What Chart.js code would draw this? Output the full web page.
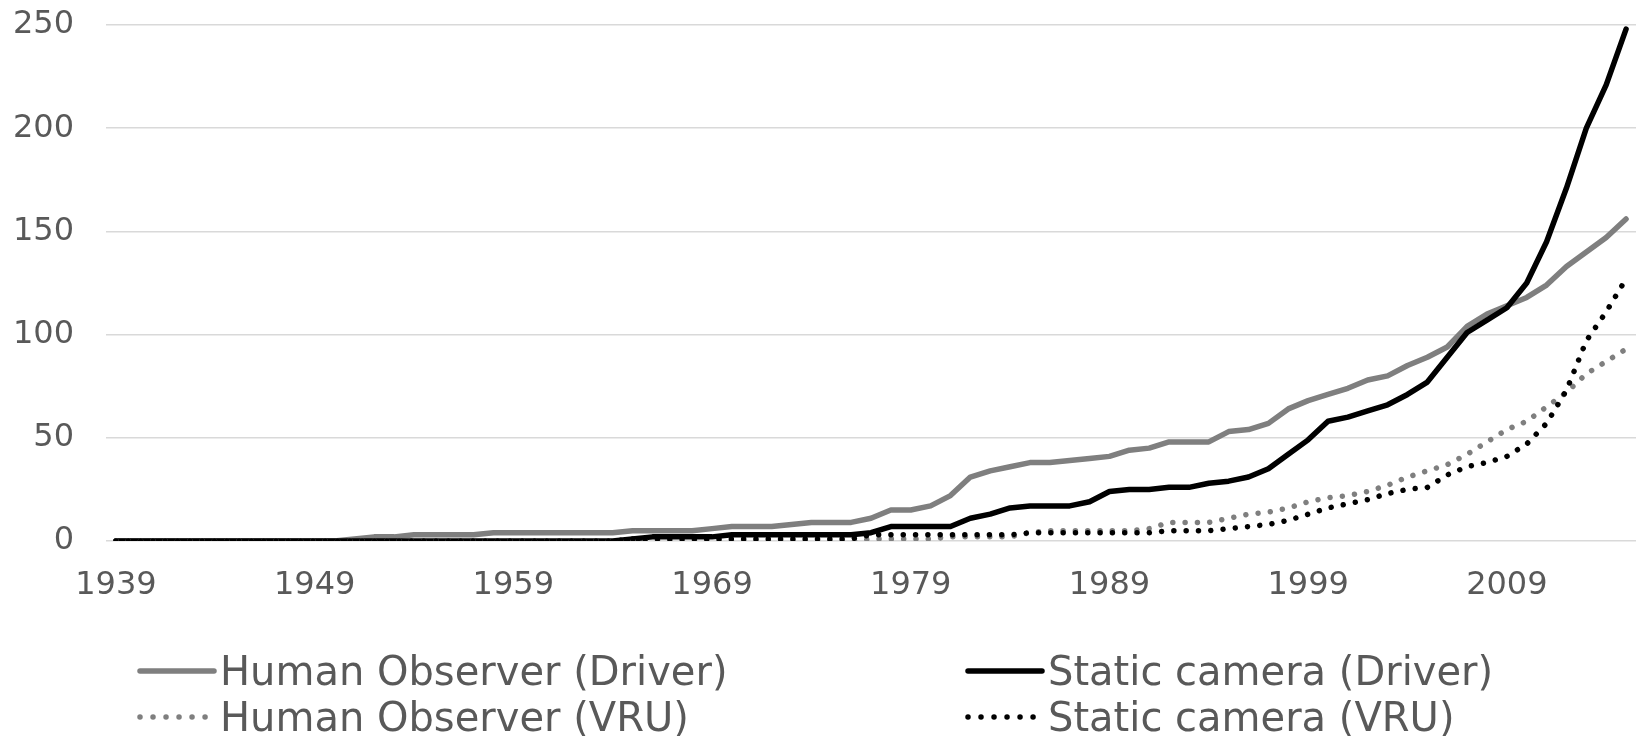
<!DOCTYPE html>
<html>
<head>
<meta charset="utf-8">
<script src="https://cdn.jsdelivr.net/npm/chart.js@4"></script>
<style>
  html, body { margin: 0; padding: 0; background: #ffffff; }
  body { width: 1637px; height: 736px; position: relative; overflow: hidden; font-family: "DejaVu Sans", Verdana, sans-serif; }
  #wrap { position: absolute; left: 0; top: 0; width: 1637px; height: 610px; }
  #legend { position: absolute; left: 0; top: 0; width: 1637px; height: 736px; pointer-events: none; }
  .item { position: absolute; height: 40px; display: flex; align-items: center; white-space: nowrap; }
  .item span { font-size: 40px; line-height: 40px; color: #595959; margin-left: 3px; }
</style>
</head>
<body>
<div id="wrap"><canvas id="c" width="1637" height="610"></canvas></div>
<div id="legend"></div>
<script>
const years = ['1939','1940','1941','1942','1943','1944','1945','1946','1947','1948',
  '1949','1950','1951','1952','1953','1954','1955','1956','1957','1958',
  '1959','1960','1961','1962','1963','1964','1965','1966','1967','1968',
  '1969','1970','1971','1972','1973','1974','1975','1976','1977','1978',
  '1979','1980','1981','1982','1983','1984','1985','1986','1987','1988',
  '1989','1990','1991','1992','1993','1994','1995','1996','1997','1998',
  '1999','2000','2001','2002','2003','2004','2005','2006','2007','2008',
  '2009','2010','2011','2012','2013','2014','2015'];

const xTickLabels = ['1939','1949','1959','1969','1979','1989','1999','2009'];
const yTickValues = [0, 50, 100, 150, 200, 250];

const seriesNames = ['Human Observer (Driver)', 'Static camera (Driver)', 'Human Observer (VRU)', 'Static camera (VRU)'];

// Human Observer (Driver)
const humanDriver = [0,0,0,0,0,0,0,0,0,0,
  0,0,1,2,2,3,3,3,3,4,
  4,4,4,4,4,4,5,5,5,5,
  6,7,7,7,8,9,9,9,11,15,
  15,17,22,31,34,36,38,38,39,40,
  41,44,45,48,48,48,53,54,57,64,
  68,71,74,78,80,85,89,94,104,110,
  114,118,124,133,140,147,156];

// Static camera (Driver)
const cameraDriver = [0,0,0,0,0,0,0,0,0,0,
  0,0,0,0,0,0,0,0,0,0,
  0,0,0,0,0,0,1,2,2,2,
  2,3,3,3,3,3,3,3,4,7,
  7,7,7,11,13,16,17,17,17,19,
  24,25,25,26,26,28,29,31,35,42,
  49,58,60,63,66,71,77,89,101,107,
  113,125,145,171,200,221,248];

// Human Observer (VRU)
const humanVRU = [0,0,0,0,0,0,0,0,0,0,
  0,0,0,0,0,0,0,0,0,0,
  0,0,0,0,0,0,0,0,0,0,
  0,0,0,0,0,0,0,0,1,1,
  1,1,2,2,2,2,4,5,5,5,
  5,5,6,9,9,9,11,13,14,16,
  19,21,22,24,27,31,34,37,42,48,
  54,58,65,72,81,87,93];

// Static camera (VRU)
const cameraVRU = [0,0,0,0,0,0,0,0,0,0,
  0,0,0,0,0,0,0,0,0,0,
  0,0,0,0,0,0,1,1,1,1,
  1,1,1,1,1,1,1,1,3,3,
  3,3,3,3,3,3,4,4,4,4,
  4,4,4,5,5,5,6,7,8,10,
  13,16,18,20,23,25,26,32,36,38,
  41,47,57,73,97,111,127];

const GRAY = '#7f7f7f';
const BLACK = '#000000';
const TEXT = '#595959';
const FONT = '"DejaVu Sans", Verdana, sans-serif';

const styles = [
  { color: GRAY, dash: [] },
  { color: BLACK, dash: [] },
  { color: GRAY, dash: [0.01, 12.3] },
  { color: BLACK, dash: [0.01, 12.3] }
];
const values = [humanDriver, cameraDriver, humanVRU, cameraVRU];

const datasets = seriesNames.map((name, i) => ({
  label: name,
  data: values[i],
  borderColor: styles[i].color,
  backgroundColor: styles[i].color,
  borderWidth: 5.5,
  borderDash: styles[i].dash,
  borderCapStyle: 'round',
  borderJoinStyle: 'round',
  pointRadius: 0,
  pointHoverRadius: 0,
  tension: 0,
  fill: false,
  order: 4 - i
}));

new Chart(document.getElementById('c'), {
  type: 'line',
  data: { labels: years, datasets: datasets },
  options: {
    responsive: false,
    animation: false,
    events: [],
    layout: { padding: { top: 25, right: 1, left: 0, bottom: 0 } },
    plugins: { legend: { display: false }, tooltip: { enabled: false }, title: { display: false } },
    scales: {
      x: {
        type: 'category',
        offset: true,
        grid: { display: false, drawTicks: false },
        border: { display: false },
        ticks: {
          autoSkip: false,
          maxRotation: 0,
          minRotation: 0,
          padding: 25,
          color: TEXT,
          font: { family: FONT, size: 32 },
          callback: function (val) {
            const lab = this.getLabelForValue(val);
            return xTickLabels.includes(lab) ? lab : '';
          }
        },
        afterFit: (scale) => {
          scale.height = 69;
          scale.paddingLeft = 0;
          scale.paddingRight = 0;
        }
      },
      y: {
        min: 0,
        max: 250,
        afterBuildTicks: (scale) => { scale.ticks = yTickValues.map(v => ({ value: v })); },
        grid: { color: '#d9d9d9', lineWidth: 1.5, drawTicks: false },
        border: { display: false },
        ticks: {
          padding: 32,
          color: TEXT,
          font: { family: FONT, size: 32 }
        },
        afterFit: (scale) => {
          scale.width = 106;
          scale.paddingTop = 0;
          scale.paddingBottom = 0;
        }
      }
    }
  }
});

// Legend (HTML), two columns x two rows
const legend = document.getElementById('legend');
const legendPos = [
  { left: 137, top: 651 },
  { left: 965, top: 651 },
  { left: 137, top: 697 },
  { left: 965, top: 697 }
];
seriesNames.forEach((name, i) => {
  const div = document.createElement('div');
  div.className = 'item';
  div.style.left = legendPos[i].left + 'px';
  div.style.top = legendPos[i].top + 'px';
  const dash = styles[i].dash.length ? 'stroke-dasharray="0.01 13"' : '';
  div.innerHTML = '<svg width="80" height="12" style="display:block">' +
    '<line x1="3" y1="6" x2="77" y2="6" stroke="' + styles[i].color + '" stroke-width="5.5" stroke-linecap="round" ' + dash + '/></svg>' +
    '<span></span>';
  div.querySelector('span').textContent = name;
  legend.appendChild(div);
});
</script>
</body>
</html>
